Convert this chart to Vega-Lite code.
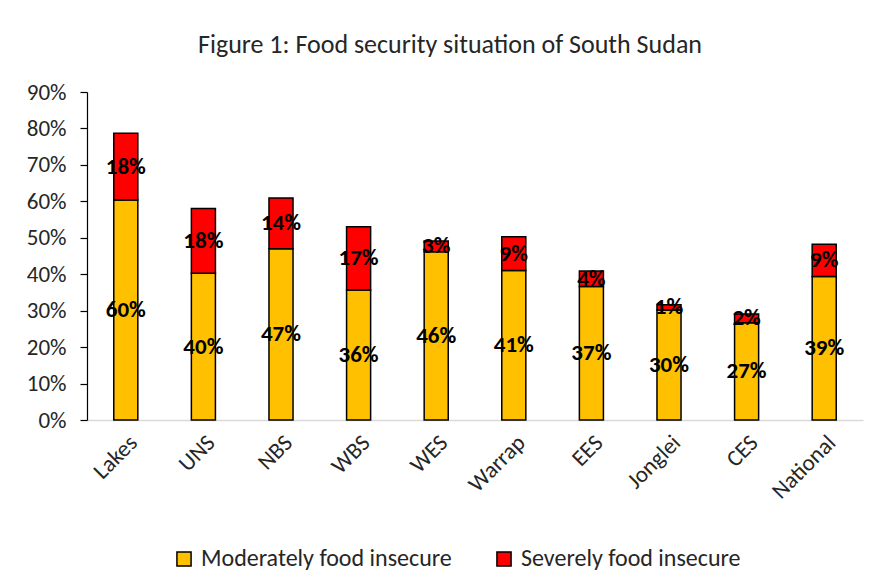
{
  "$schema": "https://vega.github.io/schema/vega-lite/v6.json",
  "width": 776,
  "height": 328,
  "padding": {"left": 26, "top": 32, "right": 10, "bottom": 5},
  "background": "white",
  "title": {
    "text": "Figure 1: Food security situation of South Sudan",
    "font": "Carlito, Lato",
    "fontSize": 26,
    "fontWeight": "normal",
    "color": "#262626",
    "dx": -25,
    "offset": 23
  },
  "data": {
    "values": [
      {"region": "Lakes", "category": "Moderately food insecure", "value": 0.604},
      {"region": "Lakes", "category": "Severely food insecure", "value": 0.183},
      {"region": "UNS", "category": "Moderately food insecure", "value": 0.403},
      {"region": "UNS", "category": "Severely food insecure", "value": 0.177},
      {"region": "NBS", "category": "Moderately food insecure", "value": 0.470},
      {"region": "NBS", "category": "Severely food insecure", "value": 0.139},
      {"region": "WBS", "category": "Moderately food insecure", "value": 0.357},
      {"region": "WBS", "category": "Severely food insecure", "value": 0.173},
      {"region": "WES", "category": "Moderately food insecure", "value": 0.462},
      {"region": "WES", "category": "Severely food insecure", "value": 0.029},
      {"region": "Warrap", "category": "Moderately food insecure", "value": 0.410},
      {"region": "Warrap", "category": "Severely food insecure", "value": 0.093},
      {"region": "EES", "category": "Moderately food insecure", "value": 0.366},
      {"region": "EES", "category": "Severely food insecure", "value": 0.043},
      {"region": "Jonglei", "category": "Moderately food insecure", "value": 0.302},
      {"region": "Jonglei", "category": "Severely food insecure", "value": 0.014},
      {"region": "CES", "category": "Moderately food insecure", "value": 0.267},
      {"region": "CES", "category": "Severely food insecure", "value": 0.024},
      {"region": "National", "category": "Moderately food insecure", "value": 0.394},
      {"region": "National", "category": "Severely food insecure", "value": 0.088}
    ]
  },
  "transform": [
    {"calculate": "datum.category == 'Moderately food insecure' ? 0 : 1", "as": "ord"},
    {"stack": "value", "groupby": ["region"], "sort": [{"field": "ord", "order": "ascending"}], "as": ["y0", "y1"]},
    {"calculate": "(datum.y0 + datum.y1) / 2", "as": "ymid"}
  ],
  "encoding": {
    "x": {
      "field": "region",
      "type": "nominal",
      "sort": ["Lakes", "UNS", "NBS", "WBS", "WES", "Warrap", "EES", "Jonglei", "CES", "National"],
      "scale": {"paddingInner": 0.69, "paddingOuter": 0.345},
      "axis": {
        "title": null,
        "labelAngle": -45,
        "labelFontSize": 23,
        "labelFont": "Carlito, Lato",
        "labelColor": "#262626",
        "ticks": false,
        "domainColor": "#d9d9d9",
        "domainWidth": 1.5,
        "labelPadding": 11
      }
    }
  },
  "layer": [
    {
      "mark": {"type": "bar", "stroke": "black", "strokeWidth": 1.5},
      "encoding": {
        "y": {
          "field": "y1",
          "type": "quantitative",
          "scale": {"domain": [0, 0.9]},
          "axis": {
            "title": null,
            "format": ".0%",
            "values": [0, 0.1, 0.2, 0.3, 0.4, 0.5, 0.6, 0.7, 0.8, 0.9],
            "labelOverlap": false,
            "grid": false,
            "domainColor": "black",
            "domainWidth": 1.2,
            "tickColor": "black",
            "tickWidth": 1.2,
            "tickSize": 7,
            "labelFontSize": 23,
            "labelFont": "Carlito, Lato",
            "labelColor": "#262626",
            "labelPadding": 14
          }
        },
        "y2": {"field": "y0"},
        "color": {
          "field": "category",
          "type": "nominal",
          "scale": {
            "domain": ["Moderately food insecure", "Severely food insecure"],
            "range": ["#FFC000", "#FF0000"]
          },
          "legend": {
            "title": null,
            "orient": "none",
            "legendX": 85,
            "legendY": 455,
            "direction": "horizontal",
            "symbolType": "square",
            "symbolSize": 200,
            "symbolStrokeColor": "black",
            "symbolStrokeWidth": 1.5,
            "labelFontSize": 24,
            "labelFont": "Carlito, Lato",
            "labelColor": "#262626",
            "labelLimit": 0,
            "labelOffset": 5,
            "columnPadding": 40
          }
        }
      }
    },
    {
      "mark": {"type": "text", "fontWeight": "bold", "fontSize": 23, "font": "Carlito, Lato", "color": "black", "baseline": "middle"},
      "encoding": {
        "y": {
          "field": "ymid",
          "type": "quantitative",
          "scale": {"domain": [0, 0.9]},
          "axis": {
            "title": null,
            "format": ".0%",
            "values": [0, 0.1, 0.2, 0.3, 0.4, 0.5, 0.6, 0.7, 0.8, 0.9],
            "labelOverlap": false,
            "grid": false,
            "domainColor": "black",
            "domainWidth": 1.2,
            "tickColor": "black",
            "tickWidth": 1.2,
            "tickSize": 7,
            "labelFontSize": 23,
            "labelFont": "Carlito, Lato",
            "labelColor": "#262626",
            "labelPadding": 14
          }
        },
        "text": {"field": "value", "type": "quantitative", "format": ".0%"}
      }
    }
  ],
  "config": {"view": {"stroke": null}}
}
